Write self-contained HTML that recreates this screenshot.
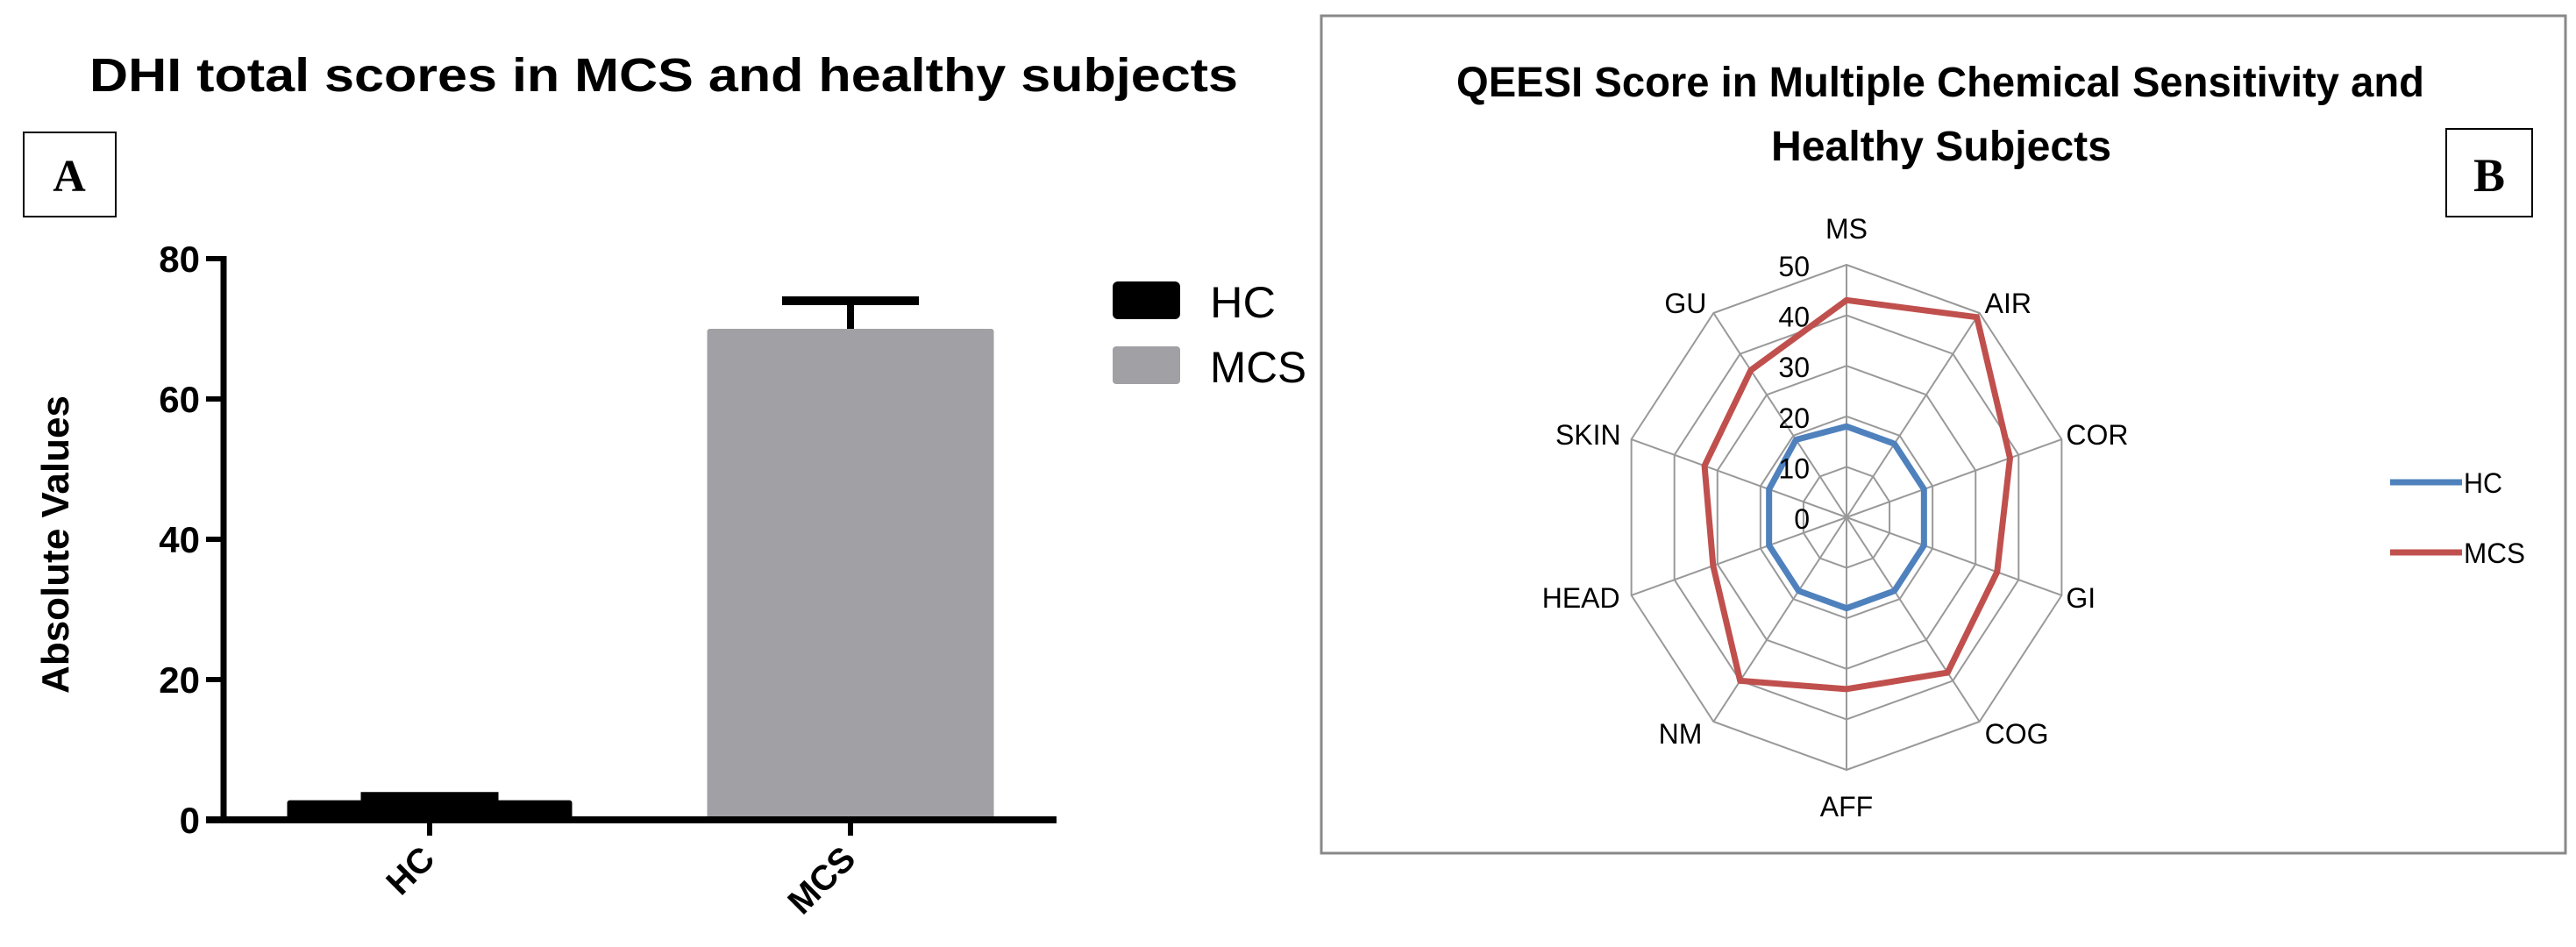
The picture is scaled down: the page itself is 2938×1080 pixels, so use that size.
<!DOCTYPE html>
<html><head><meta charset="utf-8"><style>
html,body{margin:0;padding:0;background:#fff;}
svg{display:block;}
text{font-family:"Liberation Sans",sans-serif;}
</style></head><body>
<svg id="s" width="2938" height="1080" viewBox="0 0 2938 1080" xmlns="http://www.w3.org/2000/svg">
<g id="left">
  <text x="757" y="104" text-anchor="middle" font-size="54" font-weight="bold" textLength="1310" lengthAdjust="spacingAndGlyphs">DHI total scores in MCS and healthy subjects</text>
  <rect x="27" y="151" width="105" height="96" fill="#fff" stroke="#000" stroke-width="2"/>
  <text x="79" y="218" text-anchor="middle" font-size="52" font-weight="bold" style="font-family:'Liberation Serif',serif">A</text>
  <text transform="translate(78,621) rotate(-90)" text-anchor="middle" font-size="44" font-weight="bold">Absolute Values</text>
  <g id="bars"></g>
  <g id="yaxis"></g>
  <rect x="1269" y="321" width="77" height="43" rx="6" fill="#000"/>
  <text x="1380" y="362" font-size="50" textLength="75" lengthAdjust="spacingAndGlyphs">HC</text>
  <rect x="1269" y="395" width="77" height="43" rx="4" fill="#a1a0a5"/>
  <text x="1380" y="436" font-size="50" textLength="110" lengthAdjust="spacingAndGlyphs">MCS</text>
</g>
<g id="right">
  <rect x="1507" y="18" width="1419" height="955" fill="#fff" stroke="#888" stroke-width="3"/>
  <text x="2213" y="110" text-anchor="middle" font-size="48" font-weight="bold" textLength="1104" lengthAdjust="spacingAndGlyphs">QEESI Score in Multiple Chemical Sensitivity and</text>
  <text x="2214" y="183" text-anchor="middle" font-size="48" font-weight="bold" textLength="388" lengthAdjust="spacingAndGlyphs">Healthy Subjects</text>
  <rect x="2790" y="147" width="98" height="100" fill="#fff" stroke="#000" stroke-width="2"/>
  <text x="2839" y="218" text-anchor="middle" font-size="54" font-weight="bold" style="font-family:'Liberation Serif',serif">B</text>
  <g id="radar"></g>
  <line x1="2726" y1="550" x2="2808" y2="550" stroke="#4f81bd" stroke-width="7"/>
  <text x="2810" y="562" font-size="32" textLength="44" lengthAdjust="spacingAndGlyphs">HC</text>
  <line x1="2726" y1="630" x2="2808" y2="630" stroke="#c0504d" stroke-width="7"/>
  <text x="2810" y="642" font-size="32" textLength="70" lengthAdjust="spacingAndGlyphs">MCS</text>
</g>
</svg>
<script>
// ---- Bar chart data ----
const barCategories = ["HC", "MCS"];
const barValues = [2.8, 70];
const barErrors = [0.3, 4];
const yTicks = [0, 20, 40, 60, 80];
// ---- Radar data ----
const radarAxes = ["MS","AIR","COR","GI","COG","AFF","NM","HEAD","SKIN","GU"];
const hcScores = [18, 18, 18, 18, 18, 18, 18, 18, 18, 19];
const mcsScores = [43, 49, 38, 35, 38, 34, 40, 31, 33, 36];
const radarTicks = [0, 10, 20, 30, 40, 50];

const NS = "http://www.w3.org/2000/svg";
function mk(tag, attrs, parent){const e=document.createElementNS(NS,tag);for(const k in attrs)e.setAttribute(k,attrs[k]);parent.appendChild(e);return e;}

// Bar chart axes
const y0=935, yTop=295, yMax=80, axX=255;
const yS = v => y0 - (v/yMax)*(y0-yTop);
const xCenters=[490, 970], barW=[325, 327], capW=[157,156];
const xS = i => xCenters[i];
const bars=document.getElementById('bars'), yax=document.getElementById('yaxis');
barCategories.forEach((c,i)=>{
  const cx=xS(i), col = i===0?"#000":"#a1a0a5";
  const top=yS(barValues[i]+barErrors[i]);
  const el=mk('line',{x1:cx,y1:yS(barValues[i]),x2:cx,y2:top,stroke:"#000","stroke-width":8},bars);
  
  
  const cap=mk('line',{x1:cx-capW[i]/2,y1:top,x2:cx+capW[i]/2,y2:top,stroke:"#000","stroke-width":i===0?14:10},bars);
  
  
  const r=mk('rect',{x:cx-barW[i]/2,y:yS(barValues[i]),width:barW[i],height:y0-yS(barValues[i]),fill:col,rx:3},bars);
  
  
  const t=mk('line',{x1:cx,y1:y0,x2:cx,y2:953,stroke:"#000","stroke-width":6},yax);
  
  
  const lb=mk('text',{transform:`translate(${cx+8},${982}) rotate(-45)`,"text-anchor":"end","font-size":40,"font-weight":"bold"},yax);
  lb.textContent=c;
  
  
});
const ya=mk('line',{x1:axX,y1:yTop-3,x2:axX,y2:y0+3,stroke:"#000","stroke-width":7},yax);


const xa=mk('line',{x1:axX-20,y1:y0,x2:1205,y2:y0,stroke:"#000","stroke-width":8},yax);


yTicks.forEach(v=>{
  const tk=mk('line',{x1:axX-20,y1:yS(v),x2:axX,y2:yS(v),stroke:"#000","stroke-width":6},yax);
  
  
  const tl=mk('text',{x:228,y:yS(v)+15,"text-anchor":"end","font-size":42,"font-weight":"bold"},yax);
  tl.textContent=v;
  
  
});

// Radar
const rg=document.getElementById('radar');
const cx=2106, cy=590, rx=258, ry=288, rMax=50;
const pt=(i,v)=>{const a=i*2*Math.PI/radarAxes.length;return [cx+Math.sin(a)*rx*v/rMax, cy-Math.cos(a)*ry*v/rMax];};
radarTicks.slice(1).forEach(v=>{
  const pts=radarAxes.map((_,i)=>pt(i,v).join(',')).join(' ');
  const p=mk('polygon',{points:pts,fill:"none",stroke:"#999","stroke-width":2},rg);
  
  
});
const labOff=[[0,-41],[6,-11],[5,-5],[5,3],[6,14],[0,42],[-13,14],[-13,3],[-12,-5],[-8,-11]];
radarAxes.forEach((a,i)=>{
  const [x,y]=pt(i,rMax);
  const l=mk('line',{x1:cx,y1:cy,x2:x,y2:y,stroke:"#999","stroke-width":2},rg);
  
  
  const s=Math.sin(i*2*Math.PI/radarAxes.length);
  const anchor=Math.abs(s)<0.1?"middle":(s>0?"start":"end");
  const t=mk('text',{x:x+labOff[i][0],y:y+labOff[i][1]+11,"text-anchor":anchor,"font-size":32},rg);
  t.textContent=a;
  
  
});
function series(vals,color,name){
  const pts=vals.map((v,i)=>pt(i,v).join(',')).join(' ');
  const p=mk('polygon',{points:pts,fill:"none",stroke:color,"stroke-width":7,"stroke-linejoin":"round"},rg);
  
  
}
series(hcScores,"#4f81bd","radar-series-hc");
series(mcsScores,"#c0504d","radar-series-mcs");
radarTicks.forEach(v=>{
  const t=mk('text',{x:2064,y:cy-ry*v/rMax+13,"text-anchor":"end","font-size":32},rg);
  t.textContent=v;
  
  
});
</script>
</body></html>
